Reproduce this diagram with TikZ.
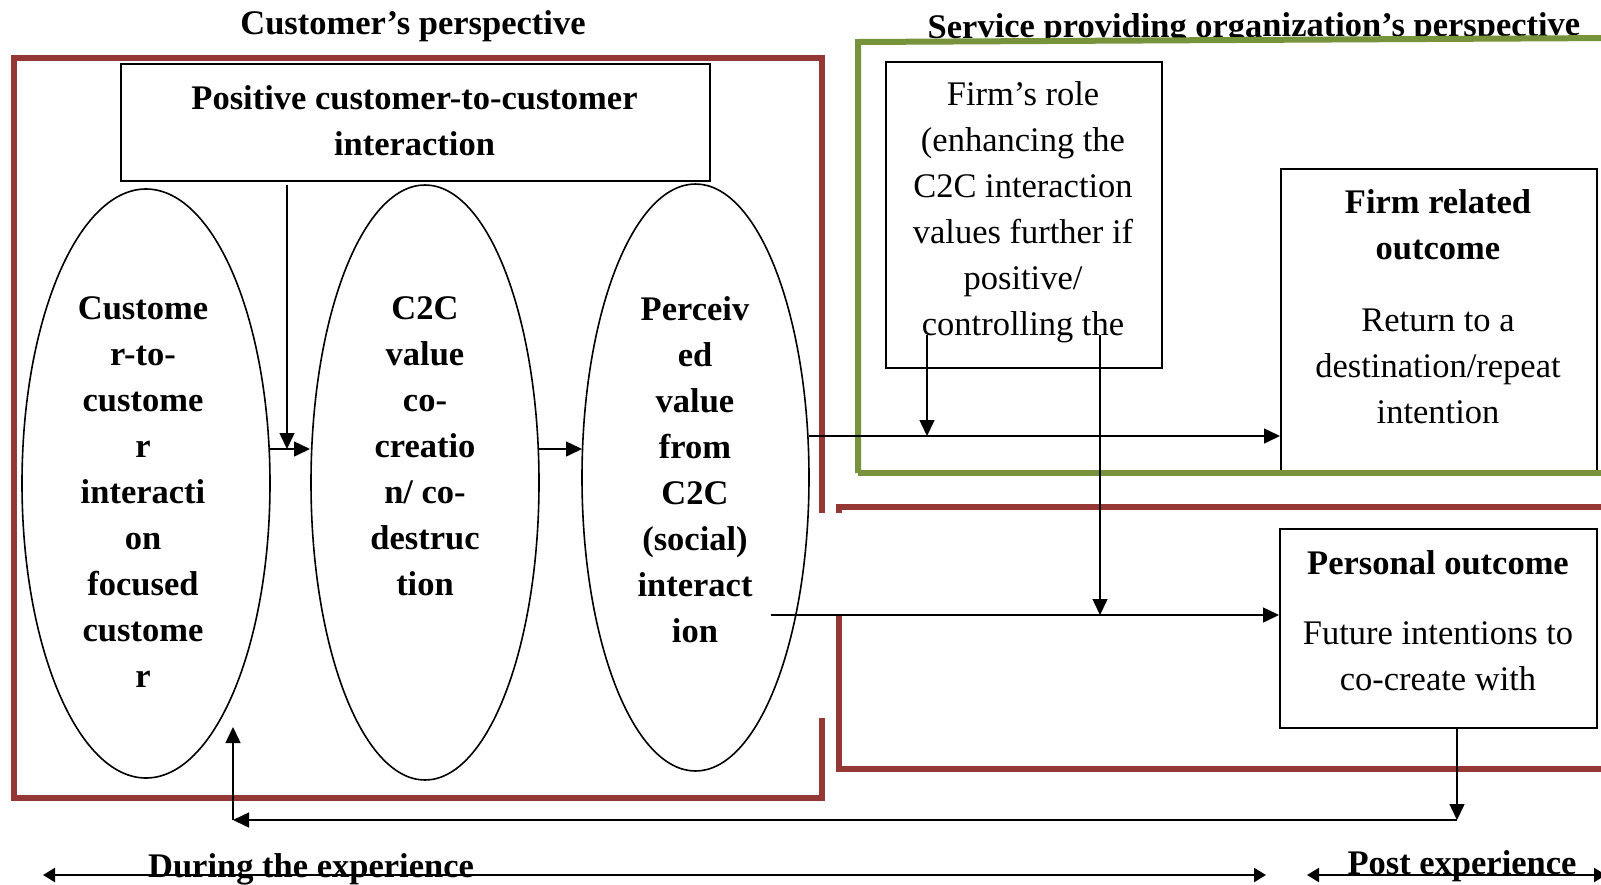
\documentclass[tikz,border=0pt]{standalone}
\usepackage{fontspec}
\setmainfont{Liberation Serif}
\usetikzlibrary{arrows.meta,shapes.geometric}
\definecolor{dred}{RGB}{149,55,53}
\definecolor{dgreen}{RGB}{119,147,60}
\begin{document}
\begin{tikzpicture}[x=0.5pt,y=-0.5pt,
  txt/.style={inner sep=0pt, align=center, font=\fontsize{17.25}{23}\selectfont},
  btxt/.style={inner sep=0pt, align=center, font=\fontsize{17.25}{23}\selectfont\bfseries},
  boxnode/.style={draw=black, line width=0.8pt, fill=white, inner sep=0pt, anchor=north west},
  ell/.style={draw=black, line width=0.8pt, ellipse, inner sep=0pt},
  redline/.style={draw=dred, line width=3pt},
  greenline/.style={draw=dgreen, line width=3pt},
  arr/.style={line width=0.75pt, -{Triangle[width=7.5pt,length=8pt]}},
  darr/.style={line width=1.1pt, {Triangle[width=7pt,length=6pt]}-{Triangle[width=7pt,length=6pt]}}]
\useasboundingbox (0,0) rectangle (1601,884);

% titles
\node[btxt, anchor=base] (t1) at (413,34) {Customer’s perspective};
\node[btxt, anchor=base, rotate=0.2] (t2) at (1254,37) {Service providing organization’s perspective};

% red boxes
\draw[redline] (822,513) -- (822,58) -- (14,58) -- (14,798) -- (822,798) -- (822,718);
\draw[redline] (839,513) -- (839,507) -- (1615,507);
\draw[redline] (1615,769) -- (839,769) -- (839,615);

% green box
\fill[white] (858,473) -- (858,42) -- (1615,38) -- (1615,473) -- cycle;

% positive box
\node[boxnode, minimum width=294.5pt, minimum height=58.5pt] (pos) at (120,63) {};
\node[btxt, anchor=north] (post) at (414.5,85.5) {Positive customer-to-customer\\interaction};

% ellipses
\node[ell, minimum width=124pt, minimum height=294.5pt] (e1) at (146,483.5) {};
\node[ell, minimum width=114pt, minimum height=297.5pt] (e2) at (425,482.5) {};
\node[ell, minimum width=113.5pt, minimum height=293.5pt] (e3) at (695.5,477.5) {};
\node[btxt, anchor=north] (e1t) at (143,296.5) {Custome\\r-to-\\custome\\r\\interacti\\on\\focused\\custome\\r};
\node[btxt, anchor=north] (e2t) at (425,296.5) {C2C\\value\\co-\\creatio\\n/ co-\\destruc\\tion};
\node[btxt, anchor=north] (e3t) at (695,296.5) {Perceiv\\ed\\value\\from\\C2C\\(social)\\interact\\ion};

% firm's role box
\node[boxnode, minimum width=138pt, minimum height=153pt] (role) at (885,61) {};
\node[txt, anchor=north] (rolet) at (1023,81.5) {Firm’s role\\(enhancing the\\C2C interaction\\values further if\\positive/\\controlling the};

% firm related outcome box
\node[boxnode, minimum width=158pt, minimum height=152.5pt] (firm) at (1280,168) {};
\node[btxt, anchor=north] (firmh) at (1438,189.5) {Firm related\\outcome};
\node[txt, anchor=north] (firmt) at (1438,308.5) {Return to a\\destination/repeat\\intention};

% green outline
\draw[greenline] (858,473) -- (858,42) -- (1615,38);
\draw[greenline] (858,473) -- (1615,473);

% personal outcome box
\node[boxnode, minimum width=158.5pt, minimum height=99.5pt] (pers) at (1279,528) {};
\node[btxt, anchor=north] (persh) at (1438,550.5) {Personal outcome};
\node[txt, anchor=north] (perst) at (1438,621.5) {Future intentions to\\co-create with};

% connector coordinates
\coordinate (a1) at (287,185);
\coordinate (a2) at (287,449);
\coordinate (b1) at (270,449);
\coordinate (b2) at (310,449);
\coordinate (c1) at (539,449);
\coordinate (c2) at (582,449);
\coordinate (d1) at (809,436);
\coordinate (d2) at (firm.west |- d1);
\coordinate (f1) at (927,335);
\coordinate (f2) at (927,436);
\coordinate (g1) at (1100,335);
\coordinate (g2) at (1100,615);
\coordinate (h1) at (771,615);
\coordinate (h2) at (pers.west |- h1);
\coordinate (k1) at (1457,727);
\coordinate (k2) at (1457,820);
\coordinate (k3) at (233,820);
\coordinate (k4) at (233,727);

\draw[arr] (a1) -- (a2);
\draw[arr] (b1) -- (b2);
\draw[arr] (c1) -- (c2);
\draw[arr] (d1) -- (d2);
\draw[arr] (f1) -- (f2);
\draw[arr] (g1) -- (g2);
\draw[arr] (h1) -- (h2);
\draw[arr] (k1) -- (k2);
\draw[arr] (k2) -- (k3);
\draw[arr] (k3) -- (k4);

% bottom timeline
\coordinate (l1) at (43,875);
\coordinate (l2) at (1266,875);
\coordinate (m1) at (1307,875);
\coordinate (m2) at (1606,875);
\draw[darr] (l1) -- (l2);
\draw[darr] (m1) -- (m2);
\node[btxt, anchor=base] (during) at (311,877) {During the experience};
\node[btxt, anchor=base] (postx) at (1462,874) {Post experience};
\end{tikzpicture}
\end{document}
